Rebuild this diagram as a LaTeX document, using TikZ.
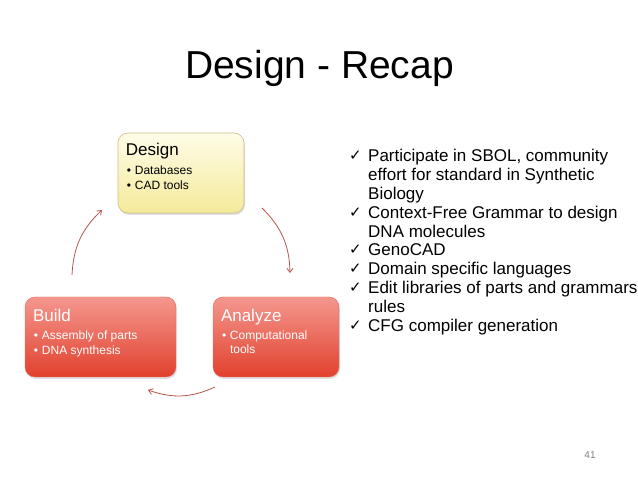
\documentclass[tikz,border=0pt]{standalone}
\usepackage{fontspec}
\setmainfont{Liberation Sans}
\newfontfamily\symfont{DejaVu Sans}
\usetikzlibrary{shadows,arrows.meta}
\definecolor{ytop}{HTML}{FEFCE8}
\definecolor{ybot}{HTML}{F5EA9A}
\definecolor{yborder}{HTML}{C9BF86}
\definecolor{rtop}{HTML}{F4978F}
\definecolor{rbot}{HTML}{E1412D}
\definecolor{rborder}{HTML}{E8685A}
\definecolor{arrowc}{HTML}{B5544C}
\tikzset{
  boxbase/.style={rounded corners=10pt, minimum height=80pt, inner sep=0pt,
    drop shadow={opacity=0.25, shadow xshift=1pt, shadow yshift=-2pt}},
  ybox/.style={boxbase, top color=ytop, bottom color=ybot, draw=yborder, line width=0.6pt},
  rbox/.style={boxbase, top color=rtop, bottom color=rbot, draw=rborder, line width=0.4pt},
  boxtitle/.style={anchor=base west, inner sep=0pt, font=\fontsize{17}{20}\selectfont},
  boxitem/.style={anchor=base west, inner sep=0pt, font=\fontsize{12}{14}\selectfont},
  cyc/.style={draw=arrowc, line width=0.8pt, -{Straight Barb[length=4pt,width=6pt]}, bend left=22},
  chk/.style={anchor=base west, inner sep=0pt, font=\symfont\fontsize{15}{16}\selectfont},
  ltxt/.style={anchor=base west, inner sep=0pt, font=\fontsize{17}{19}\selectfont},
}
\newcommand{\bul}{\makebox[8pt][l]{•}}
\begin{document}
\begin{tikzpicture}[x=1pt,y=1pt]
\useasboundingbox (0,0) rectangle (638,479);
% title
\node[anchor=base, inner sep=0pt, font=\fontsize{39}{44}\selectfont] (title) at (319.5,400) {Design - Recap};
% boxes
\node[ybox, minimum width=126pt] (design) at (181,306) {};
\node[rbox, minimum width=151pt] (build) at (100.5,142) {};
\node[rbox, minimum width=126pt] (analyze) at (276,142) {};
% design text
\node[boxtitle] (dt) at ([xshift=8pt,yshift=-23pt]design.north west) {Design};
\node[boxitem] (d1) at ([xshift=9pt,yshift=-42pt]design.north west) {\bul Databases};
\node[boxitem] (d2) at ([xshift=9pt,yshift=-57pt]design.north west) {\bul CAD tools};
% build text
\node[boxtitle, text=white] (bt) at ([xshift=8pt,yshift=-25pt]build.north west) {Build};
\node[boxitem, text=white] (b1) at ([xshift=9pt,yshift=-43pt]build.north west) {\bul Assembly of parts};
\node[boxitem, text=white] (b2) at ([xshift=9pt,yshift=-58pt]build.north west) {\bul DNA synthesis};
% analyze text
\node[boxtitle, text=white] (at) at ([xshift=8pt,yshift=-25pt]analyze.north west) {Analyze};
\node[boxitem, text=white] (a1) at ([xshift=9pt,yshift=-43pt]analyze.north west) {\bul Computational};
\node[boxitem, text=white] (a2) at ([xshift=17pt,yshift=-57pt]analyze.north west) {tools};
% cycle arrows
\coordinate (c1s) at (72,204);
\coordinate (c1e) at (102,269);
\coordinate (c2s) at (262,271);
\coordinate (c2e) at (290,206);
\coordinate (c3s) at (215,92);
\coordinate (c3e) at (148,89);
\draw[cyc] (c1s) to (c1e);
\draw[cyc] (c2s) to (c2e);
\draw[cyc] (c3s) to (c3e);
% checklist
\node[chk] (k1) at (349,318) {✓};
\node[ltxt] (l1) at (368,317) {Participate in SBOL, community};
\node[ltxt] (l2) at (368,298.2) {effort for standard in Synthetic};
\node[ltxt] (l3) at (368,279.4) {Biology};
\node[chk] (k2) at (349,261.6) {✓};
\node[ltxt] (l4) at (368,260.6) {Context-Free Grammar to design};
\node[ltxt] (l5) at (368,241.8) {DNA molecules};
\node[chk] (k3) at (349,224) {✓};
\node[ltxt] (l6) at (368,223) {GenoCAD};
\node[chk] (k4) at (349,205.2) {✓};
\node[ltxt] (l7) at (368,204.2) {Domain specific languages};
\node[chk] (k5) at (349,186.4) {✓};
\node[ltxt] (l8) at (368,185.4) {Edit libraries of parts and grammars};
\node[ltxt] (l9) at (368,166.6) {rules};
\node[chk] (k6) at (349,148.8) {✓};
\node[ltxt] (l10) at (368,147.8) {CFG compiler generation};
% page number
\node[inner sep=0pt, text=gray, font=\fontsize{10}{12}\selectfont] (pg) at (590,24) {41};
\end{tikzpicture}
\end{document}
